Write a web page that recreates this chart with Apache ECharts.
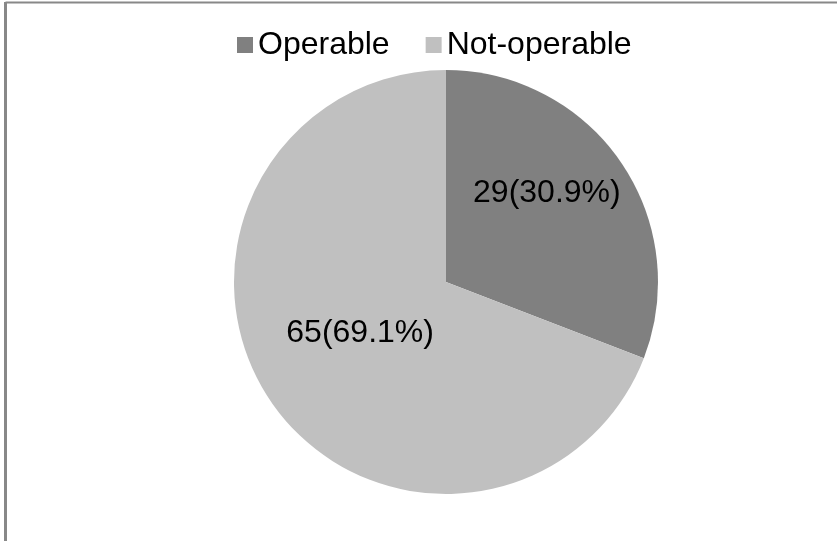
<!DOCTYPE html>
<html>
<head>
<meta charset="utf-8">
<script src="https://cdn.jsdelivr.net/npm/echarts@6/dist/echarts.min.js"></script>
<style>
  html, body { margin: 0; padding: 0; background: #ffffff; }
  #chart { width: 837px; height: 541px; }
</style>
</head>
<body>
<div id="chart"></div>
<script>
// Patient counts by operability
const categories = ['Operable', 'Not-operable'];
const counts = [29, 65];
const sliceColors = ['#808080', '#c0c0c0'];
// Fine nudges for the in-slice labels (px)
const labelNudge = [[11, -27], [4, -11]];

const chart = echarts.init(document.getElementById('chart'), null, { renderer: 'canvas' });

const fontFamily = '"Liberation Sans", Arial, sans-serif';

chart.setOption({
  backgroundColor: '#ffffff',
  animation: false,
  legend: {
    data: categories,
    left: 237,
    top: 27,
    padding: 0,
    itemWidth: 16,
    itemHeight: 16,
    itemGap: 36,
    icon: 'rect',
    textStyle: { fontFamily: fontFamily, fontSize: 32, color: '#000000', lineHeight: 36 }
  },
  graphic: [
    {
      type: 'line',
      shape: { x1: 5.5, y1: 2.5, x2: 837, y2: 2.5 },
      style: { stroke: '#888888', lineWidth: 2 },
      silent: true
    },
    {
      type: 'line',
      shape: { x1: 5.5, y1: 2, x2: 5.5, y2: 541 },
      style: { stroke: '#888888', lineWidth: 3 },
      silent: true
    }
  ],
  series: [{
    type: 'pie',
    center: [446, 282],
    radius: [0, 212],
    startAngle: 90,
    clockwise: true,
    percentPrecision: 1,
    avoidLabelOverlap: false,
    emphasis: { disabled: true },
    itemStyle: { borderWidth: 0 },
    label: {
      show: true,
      position: 'inside',
      formatter: '{c}({d}%)',
      fontFamily: fontFamily,
      fontSize: 32,
      color: '#000000'
    },
    labelLine: { show: false },
    labelLayout: function (params) {
      const n = labelNudge[params.dataIndex] || [0, 0];
      return { dx: n[0], dy: n[1] };
    },
    data: categories.map((name, i) => ({
      name: name,
      value: counts[i],
      itemStyle: { color: sliceColors[i] }
    }))
  }]
});
</script>
</body>
</html>
